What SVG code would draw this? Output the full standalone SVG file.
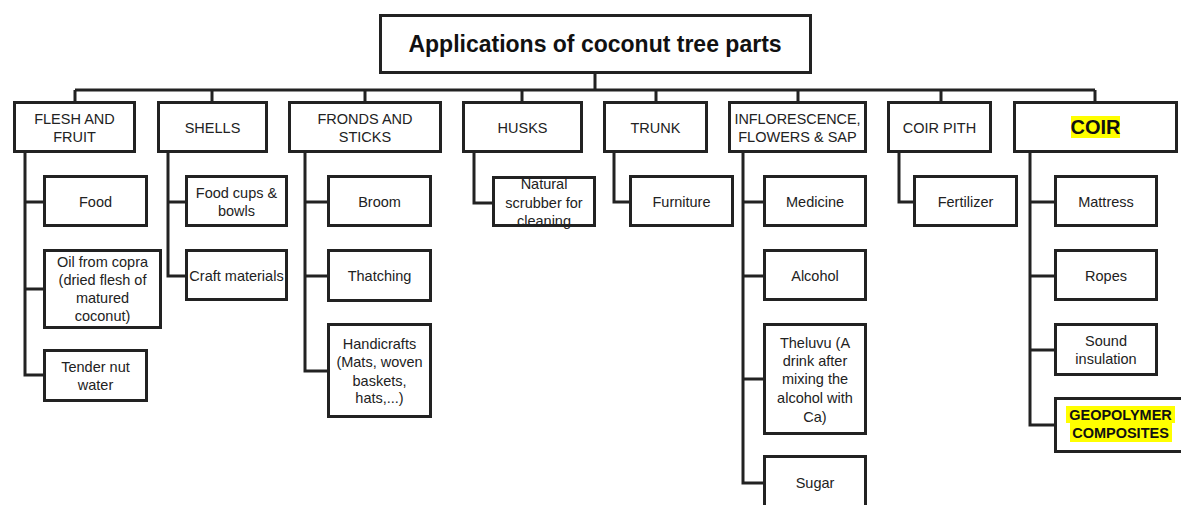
<svg xmlns="http://www.w3.org/2000/svg" width="1181" height="505" viewBox="0 0 1181 505">
<style>
rect.b{fill:#fff;stroke:#222;stroke-width:3}
path.c{fill:none;stroke:#222;stroke-width:3}
text{font-family:"Liberation Sans",Arial,sans-serif;font-size:14.5px;fill:#222;text-anchor:middle}
text.t{font-size:23px;font-weight:bold;fill:#111}
text.h{font-weight:bold;fill:#111}
rect.hl{fill:#ffff00;stroke:none}
</style>
<rect width="1181" height="505" fill="#fff"/>
<g id="connectors">
<path class="c" d="M595,74V90M75,90H1095M75,90V102M212,90V102M365,90V102M522,90V102M656,90V102M798,90V102M941,90V102M1095,90V102"/>
<path class="c" d="M25,153V375H44M25,202H44M25,289H44"/>
<path class="c" d="M168,153V276H186M168,202H186"/>
<path class="c" d="M305,153V371H328M305,202H328M305,276H328"/>
<path class="c" d="M474,153V203H493"/>
<path class="c" d="M614,153V202H630"/>
<path class="c" d="M743,153V483H764M743,202H764M743,276H764M743,379H764"/>
<path class="c" d="M899,153V202H914"/>
<path class="c" d="M1030,153V425H1055M1030,202H1055M1030,276H1055M1030,350H1055"/>
</g>
<g id="root"><rect class="b" x="380.5" y="15.5" width="430" height="57"/><text class="t" x="595" y="52">Applications of coconut tree parts</text></g>
<g id="flesh"><rect class="b" x="14.5" y="102.5" width="120" height="49"/><text x="74.5" y="124">FLESH AND</text><text x="74.5" y="142">FRUIT</text></g>
<g id="shells"><rect class="b" x="158.5" y="102.5" width="108" height="49"/><text x="212.5" y="133">SHELLS</text></g>
<g id="fronds"><rect class="b" x="289.5" y="102.5" width="151" height="49"/><text x="365" y="124">FRONDS AND</text><text x="365" y="142">STICKS</text></g>
<g id="husks"><rect class="b" x="463.5" y="102.5" width="118" height="49"/><text x="522.5" y="133">HUSKS</text></g>
<g id="trunk"><rect class="b" x="604.5" y="102.5" width="102" height="49"/><text x="655.5" y="133">TRUNK</text></g>
<g id="inflo"><rect class="b" x="729.5" y="102.5" width="136" height="49"/><text x="797.5" y="124" textLength="126" lengthAdjust="spacingAndGlyphs">INFLORESCENCE,</text><text x="797.5" y="142">FLOWERS &amp; SAP</text></g>
<g id="coirpith"><rect class="b" x="888.5" y="102.5" width="102" height="49"/><text x="939.5" y="133">COIR PITH</text></g>
<g id="coir"><rect class="b" x="1014.5" y="102.5" width="162" height="49"/><rect class="hl" x="1071" y="116" width="49" height="22"/><text class="h" x="1095.5" y="134" style="font-size:20px">COIR</text></g>
<g id="food"><rect class="b" x="44.5" y="176.5" width="102" height="49"/><text x="95.5" y="207">Food</text></g>
<g id="oil"><rect class="b" x="44.5" y="250.5" width="116" height="77"/><text x="102.5" y="267">Oil from copra</text><text x="102.5" y="285">(dried flesh of</text><text x="102.5" y="303">matured</text><text x="102.5" y="321">coconut)</text></g>
<g id="tender"><rect class="b" x="44.5" y="350.5" width="102" height="50"/><text x="95.5" y="372">Tender nut</text><text x="95.5" y="390">water</text></g>
<g id="cups"><rect class="b" x="186.5" y="176.5" width="100" height="49"/><text x="236.5" y="198">Food cups &amp;</text><text x="236.5" y="216">bowls</text></g>
<g id="craft"><rect class="b" x="186.5" y="250.5" width="100" height="49"/><text x="236.5" y="281">Craft materials</text></g>
<g id="broom"><rect class="b" x="328.5" y="176.5" width="102" height="49"/><text x="379.5" y="207">Broom</text></g>
<g id="thatch"><rect class="b" x="328.5" y="250.5" width="102" height="50"/><text x="379.5" y="281">Thatching</text></g>
<g id="handi"><rect class="b" x="328.5" y="324.5" width="102" height="92"/><text x="379.5" y="349">Handicrafts</text><text x="379.5" y="367">(Mats, woven</text><text x="379.5" y="386">baskets,</text><text x="379.5" y="403">hats,...)</text></g>
<g id="scrub"><rect class="b" x="493.5" y="177.5" width="101" height="48"/><text x="544" y="189">Natural</text><text x="544" y="208">scrubber for</text><text x="544" y="226">cleaning</text></g>
<g id="furn"><rect class="b" x="630.5" y="176.5" width="102" height="49"/><text x="681.5" y="207">Furniture</text></g>
<g id="medicine"><rect class="b" x="764.5" y="176.5" width="101" height="49"/><text x="815" y="207">Medicine</text></g>
<g id="alcohol"><rect class="b" x="764.5" y="250.5" width="101" height="49"/><text x="815" y="281">Alcohol</text></g>
<g id="theluvu"><rect class="b" x="764.5" y="324.5" width="101" height="109"/><text x="815" y="348">Theluvu (A</text><text x="815" y="366">drink after</text><text x="815" y="384">mixing the</text><text x="815" y="403">alcohol with</text><text x="815" y="422">Ca)</text></g>
<g id="sugar"><rect class="b" x="764.5" y="456.5" width="101" height="60"/><text x="815" y="488">Sugar</text></g>
<g id="fert"><rect class="b" x="914.5" y="176.5" width="102" height="49"/><text x="965.5" y="207">Fertilizer</text></g>
<g id="mattress"><rect class="b" x="1055.5" y="176.5" width="101" height="49"/><text x="1106" y="207">Mattress</text></g>
<g id="ropes"><rect class="b" x="1055.5" y="250.5" width="101" height="49"/><text x="1106" y="281">Ropes</text></g>
<g id="sound"><rect class="b" x="1055.5" y="324.5" width="101" height="50"/><text x="1106" y="346">Sound</text><text x="1106" y="364">insulation</text></g>
<g id="geo"><rect class="b" x="1055.5" y="398.5" width="130" height="53"/><rect class="hl" x="1066" y="406" width="109" height="17"/><rect class="hl" x="1070" y="423" width="102" height="19"/><text class="h" x="1120.5" y="420" style="font-size:14.5px">GEOPOLYMER</text><text class="h" x="1120.5" y="438" style="font-size:14.5px">COMPOSITES</text></g>
</svg>
